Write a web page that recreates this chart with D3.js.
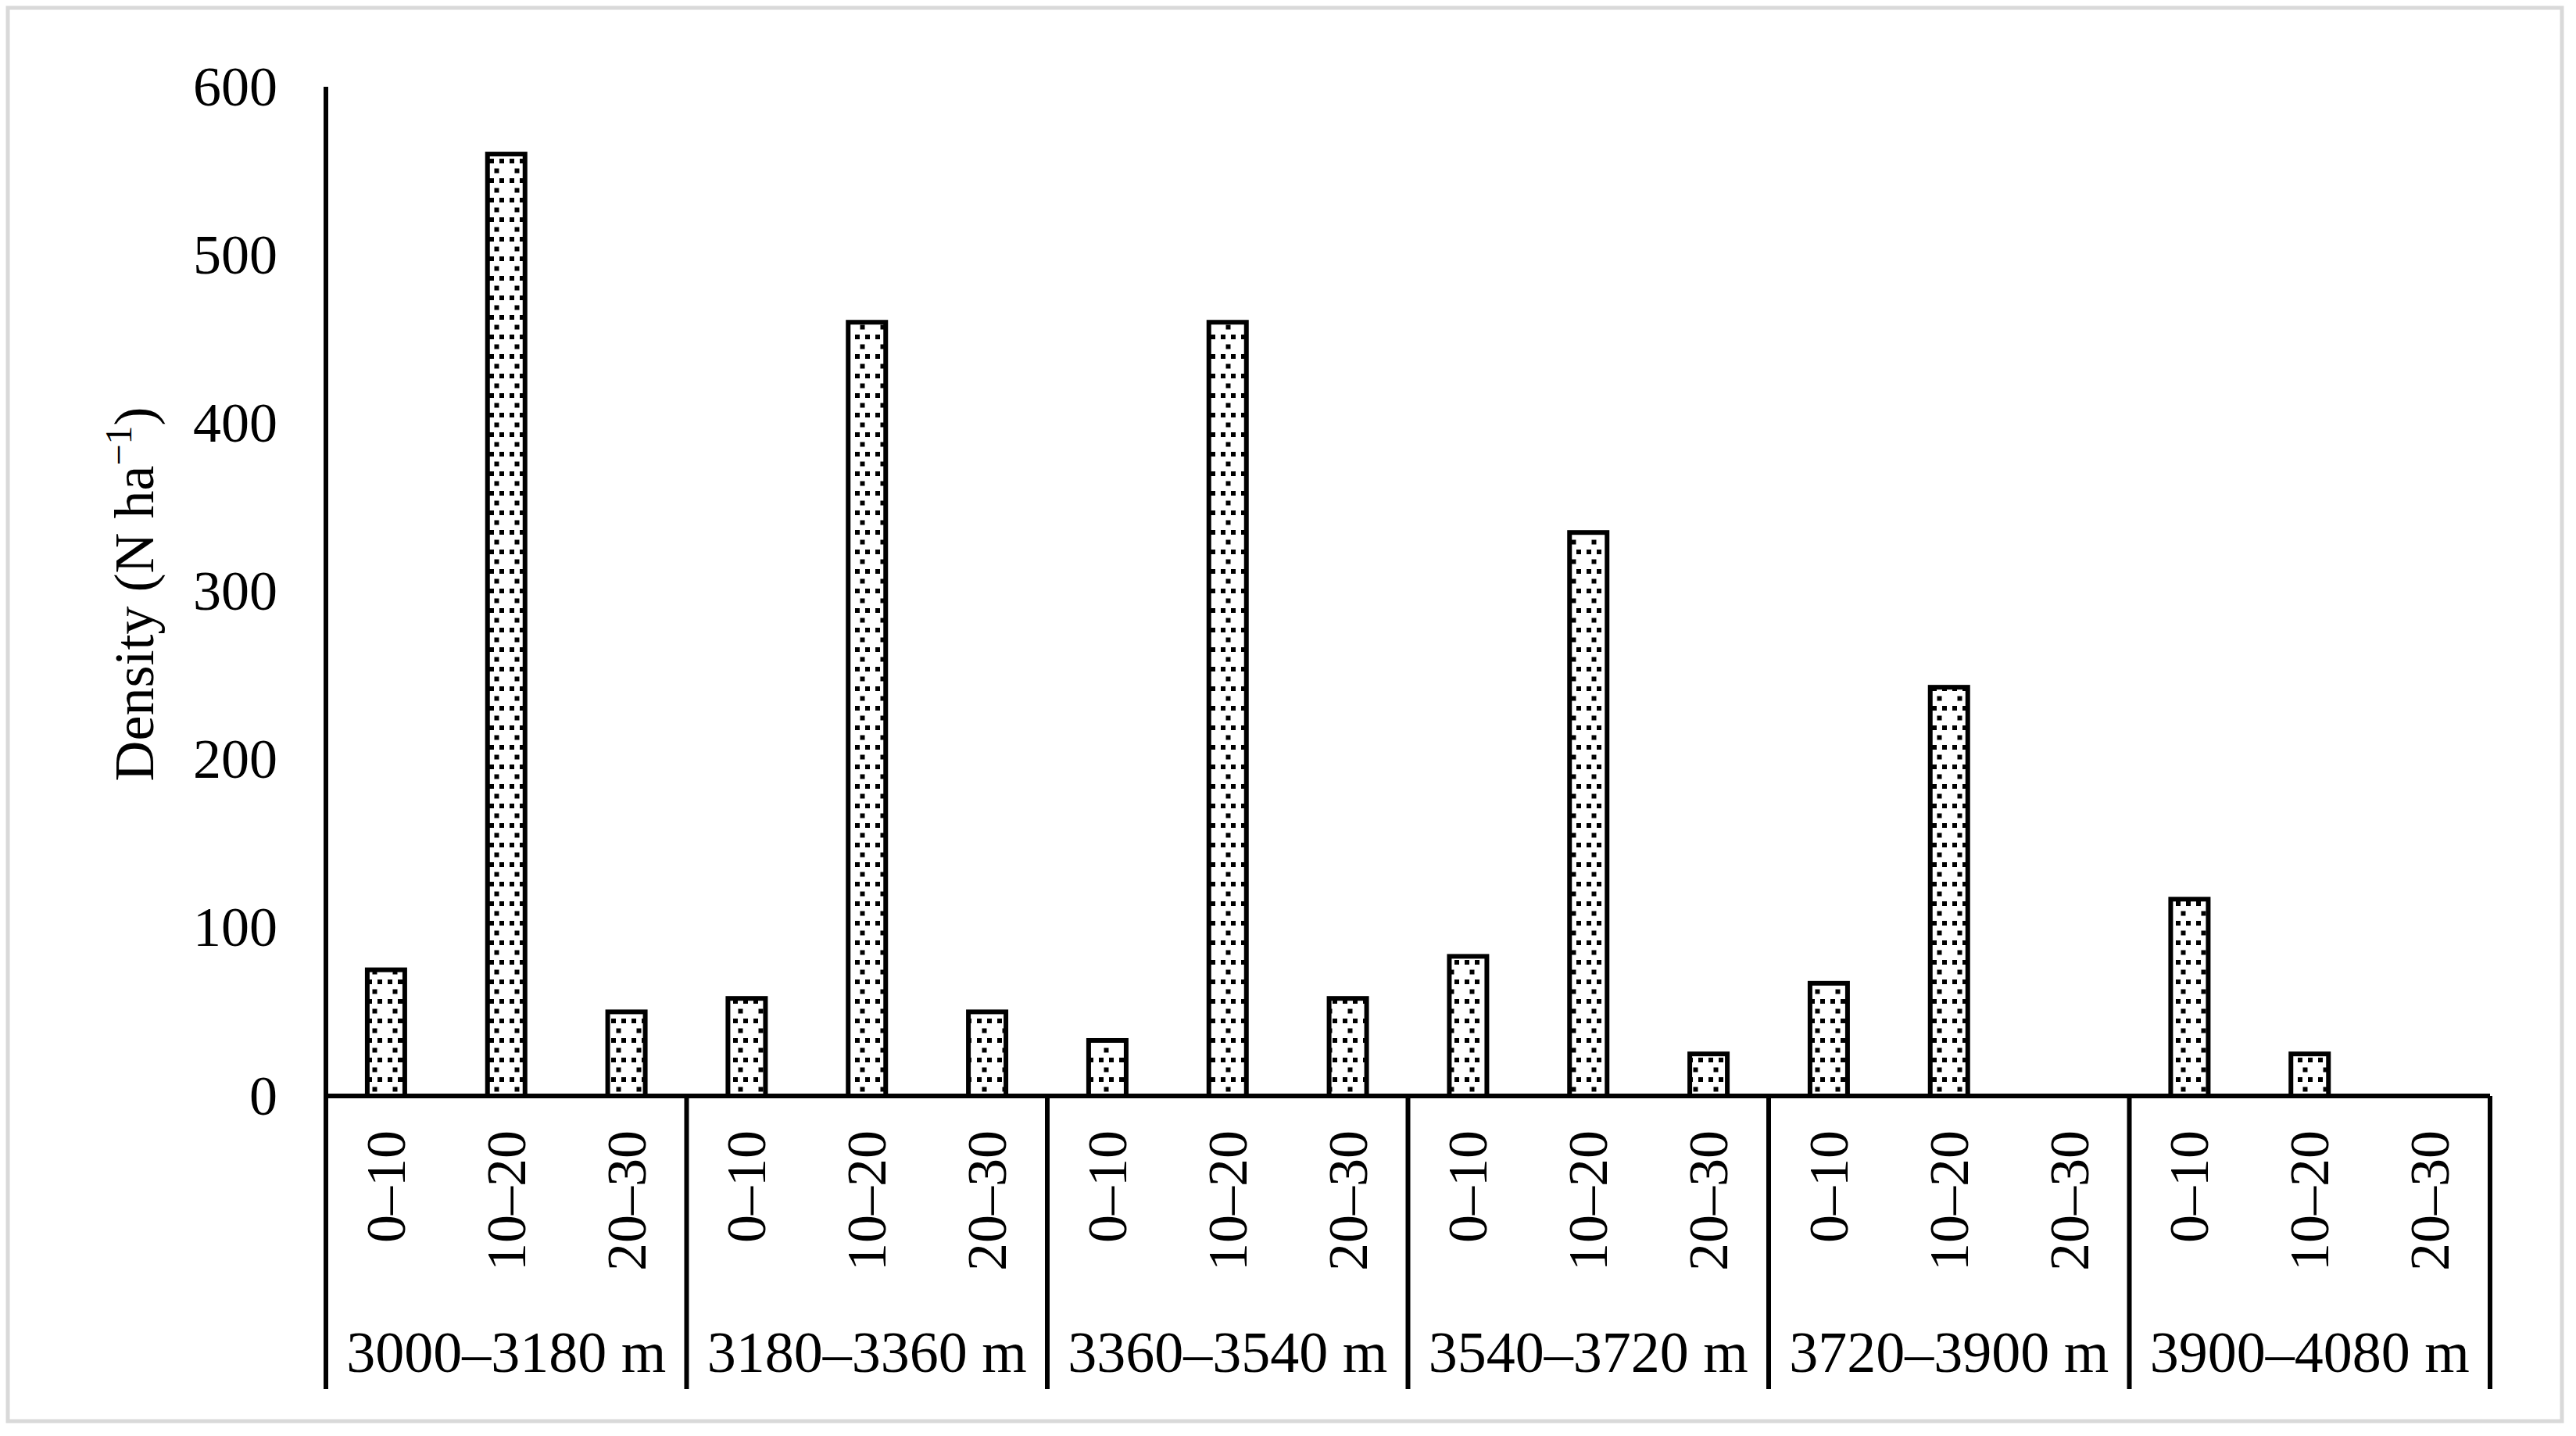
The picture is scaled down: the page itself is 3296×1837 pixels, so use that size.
<!DOCTYPE html>
<html><head><meta charset="utf-8">
<script src="https://cdn.jsdelivr.net/npm/d3@7"></script>
<style>body{margin:0;background:#fff}svg{display:block}text{font-family:"Liberation Serif","Times New Roman",serif;fill:#000}</style>
</head><body><svg id="c" width="3296" height="1837"></svg>
<script>
const groups=["3000–3180 m","3180–3360 m","3360–3540 m","3540–3720 m","3720–3900 m","3900–4080 m"];
const classes=["0–10","10–20","20–30"];
const values=[[75,560,50],[58,460,50],[33,460,58],[83,335,25],[67,243,0],[117,25,0]];
const yTicks=[0,100,200,300,400,500,600];

const svg=d3.select("#c");
const L=417,R=3186,T=111,B=1402;
svg.append("rect").attr("x",10).attr("y",10).attr("width",3268).attr("height",1808).attr("fill","none").attr("stroke","#d9d9d9").attr("stroke-width",5);
const defs=svg.append("defs");
const p=defs.append("pattern").attr("id","dots").attr("patternUnits","userSpaceOnUse").attr("width",26).attr("height",25);
p.append("rect").attr("width",26).attr("height",25).attr("fill","#fff");
p.append("rect").attr("x",2).attr("y",3).attr("width",6).attr("height",6).attr("fill","#000");
p.append("rect").attr("x",15).attr("y",3).attr("width",6).attr("height",6).attr("fill","#000");
p.append("rect").attr("x",8.5).attr("y",15.5).attr("width",6).attr("height",6).attr("fill","#000");

const y=d3.scaleLinear().domain([0,600]).range([B,T]);
const xg=d3.scaleBand().domain(groups).range([L,R]);
const xc=d3.scaleBand().domain(classes).range([0,xg.bandwidth()]);
const bw=48;

const yAxis=svg.append("g").attr("transform",`translate(${L},0)`).call(d3.axisLeft(y).tickValues(yTicks).tickSize(0).tickPadding(62));
yAxis.select(".domain").remove();
yAxis.selectAll("text").attr("font-size",72).attr("font-family","Liberation Serif");
svg.append("line").attr("x1",L).attr("x2",L).attr("y1",T).attr("y2",B).attr("stroke","#000").attr("stroke-width",6);

groups.forEach((g,gi)=>{
  values[gi].forEach((v,ci)=>{
    if(v<=0)return;
    const cx=xg(g)+xc(classes[ci])+xc.bandwidth()/2;
    svg.append("rect").attr("x",cx-bw/2).attr("y",y(v)).attr("width",bw).attr("height",B-y(v))
      .attr("fill","url(#dots)").attr("stroke","#000").attr("stroke-width",6);
  });
});
svg.append("line").attr("x1",L).attr("x2",R).attr("y1",B).attr("y2",B).attr("stroke","#000").attr("stroke-width",6);

// category hierarchy
xg.domain().concat(["end"]).forEach((g,i)=>{
  const x=i<groups.length?xg(g):R;
  svg.append("line").attr("x1",x).attr("x2",x).attr("y1",B).attr("y2",1777).attr("stroke","#000").attr("stroke-width",6);
});
groups.forEach(g=>{
  classes.forEach(c=>{
    const cx=xg(g)+xc(c)+xc.bandwidth()/2;
    svg.append("text").attr("transform",`translate(${cx+24},1446) rotate(-90)`).attr("text-anchor","end")
      .attr("font-size",72).text(c);
  });
  svg.append("text").attr("x",xg(g)+xg.bandwidth()/2).attr("y",1755).attr("text-anchor","middle").attr("font-size",74).text(g);
});

const yl=svg.append("text").attr("transform","translate(196,760) rotate(-90)").attr("text-anchor","middle").attr("font-size",72);
yl.append("tspan").text("Density (N ha");
yl.append("tspan").attr("font-size",48).attr("dy",-28).text("−1");
yl.append("tspan").attr("dy",28).text(")");
</script></body></html>
